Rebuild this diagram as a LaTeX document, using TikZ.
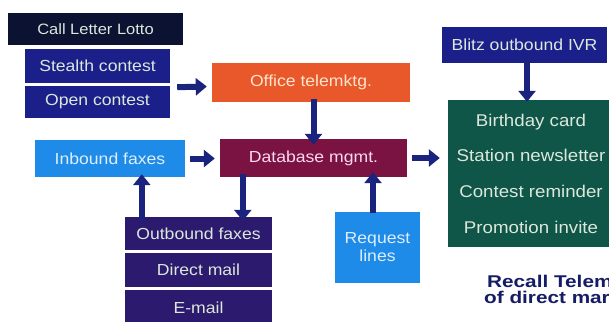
\documentclass[tikz,border=0pt]{standalone}
\usepackage{fontspec}
\setmainfont[FakeStretch=1.1]{Liberation Sans}
\newfontfamily\capfont[FakeStretch=1.22]{Liberation Sans}
\usetikzlibrary{arrows.meta}

\definecolor{lotto}{HTML}{0C1232}
\definecolor{navy}{HTML}{1B1F8A}
\definecolor{office}{HTML}{E8582A}
\definecolor{dbase}{HTML}{7A1242}
\definecolor{sky}{HTML}{1F8BE8}
\definecolor{teal}{HTML}{0F5548}
\definecolor{outb}{HTML}{2B1A6E}
\definecolor{arrowc}{HTML}{1A237E}
\definecolor{pale}{HTML}{DCE8DC}

\begin{document}
\begin{tikzpicture}[x=1pt,y=-1pt]
        \useasboundingbox[fill=white] (0,0) rectangle (609,321);

        \tikzstyle{box}=[inner sep=0pt,text=pale,font=\fontsize{16}{18}\selectfont]
        \tikzstyle{arr}=[draw=arrowc,line width=6pt,-{Triangle[width=17pt,length=11pt]}]

        % left column
        \node [box,fill=lotto,minimum width=175pt,minimum height=32pt,font=\fontsize{15}{17}\selectfont] (lotto) at (95.5,29) {Call Letter Lotto};
        \node [box,fill=navy,minimum width=145pt,minimum height=34pt] (stealth) at (97.5,66) {Stealth contest};
        \node [box,fill=navy,minimum width=145pt,minimum height=32pt] (open) at (97.5,102) {Open contest};
        \node [box,fill=sky,text=white!85!sky,minimum width=150pt,minimum height=37pt] (inbound) at (110,158.5) {Inbound faxes};

        % middle
        \node [box,fill=office,text=white!80!orange,minimum width=198pt,minimum height=39pt] (office) at (311,82.5) {Office telemktg.};
        \node [box,fill=dbase,text=white!85!magenta,minimum width=187pt,minimum height=38pt] (db) at (313.5,158) {Database mgmt.};
        \node [box,fill=outb,minimum width=147pt,minimum height=33pt] (outfax) at (198.5,233.5) {Outbound faxes};
        \node [box,fill=outb,minimum width=147pt,minimum height=34pt] (mail) at (198.5,270) {Direct mail};
        \node [box,fill=outb,minimum width=147pt,minimum height=35pt] (email) at (198.5,307.5) {E-mail};
        \node [box,fill=sky,text=white!85!sky,minimum width=85pt,minimum height=71pt,align=center] (request) at (377.5,247.5) {Request\\lines};

        % right column
        \node [box,fill=navy,minimum width=165pt,minimum height=36pt] (blitz) at (524.5,45) {Blitz outbound IVR};
        \node [box,fill=teal,minimum width=166pt,minimum height=147pt,align=center,
               font=\fontsize{17}{35.7}\selectfont] (recall) at (531,173.5)
              {Birthday card\\Station newsletter\\Contest reminder\\Promotion invite};

        \node [anchor=base west,inner sep=0pt,align=left,text=arrowc!80!black,
               font=\capfont\bfseries\fontsize{17}{16}\selectfont] (caption) at (484,303) {\hspace*{3pt}Recall Telem\\ of direct mar};

        \draw[arr] ([xshift=7pt,yshift=-4pt]stealth.south east) -- ([xshift=-5pt,yshift=-4pt]office.west);   % contests->office
        \draw[arr] ([yshift=3pt]office.south -| db.north) -- ([yshift=-6pt]db.north);     % office->db
        \draw[arr] ([xshift=5pt]inbound.east) -- ([xshift=-5pt]inbound.east -| db.west); % inbound->db
        \draw[arr] ([xshift=5pt]db.east) -- ([xshift=-8pt]db.east -| recall.west);       % db->recall
        \draw[arr] ([yshift=4pt,xshift=2.5pt]blitz.south) -- ([yshift=-2pt,xshift=2.5pt]recall.north -| blitz.south); % blitz->recall
        \draw[arr] ([xshift=17pt,yshift=-4pt]outfax.north west) -- ([xshift=17pt,yshift=3pt]outfax.north west |- inbound.south); % outfax->inbound
        \draw[arr] ([xshift=23pt,yshift=3pt]db.south west) -- ([xshift=23pt,yshift=-4pt]db.south west |- outfax.north); % db->outfax
        \draw[arr] ([xshift=-4.5pt,yshift=-1pt]request.north) -- ([xshift=-4.5pt,yshift=5pt]request.north |- db.south); % request->db

\end{tikzpicture}
\end{document}
